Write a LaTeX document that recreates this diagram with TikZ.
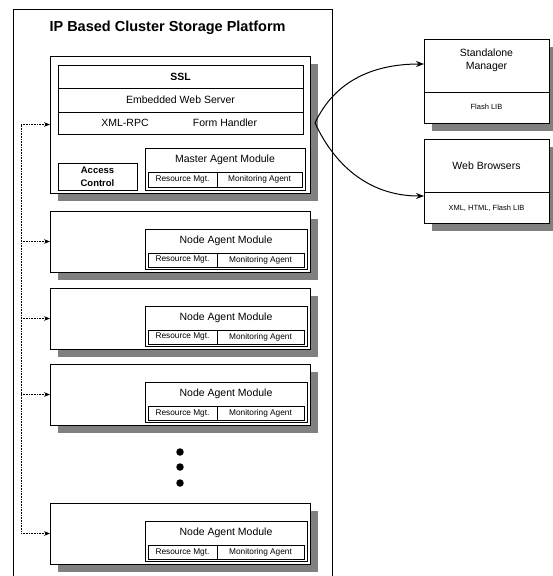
\documentclass[tikz,border=0pt]{standalone}
\usepackage{fontspec}
\setmainfont{Liberation Sans}
\usetikzlibrary{arrows.meta,calc}
\begin{document}
\begin{tikzpicture}[x=1pt,y=-1pt,
  box/.style={draw, line width=0.7pt, fill=white, rectangle, inner sep=0pt, outer sep=0pt, anchor=north west},
  shadowfill/.style={fill=black!50},
  lbl/.style={font=\fontsize{10.5}{13}\selectfont},
  sml/.style={font=\fontsize{8.3}{10}\selectfont},
  tiny/.style={font=\fontsize{7.5}{9}\selectfont},
  bus/.style={densely dotted, line width=0.6pt},
  busarrow/.style={densely dotted, line width=0.6pt, -{Stealth[length=6pt,width=4.5pt]}},
  link/.style={line width=1pt, -{Stealth[length=8pt,width=6pt]}},
  dotnode/.style={circle, fill=black, inner sep=0pt, minimum size=7.5pt}
]
\useasboundingbox (0,0) rectangle (553,576);
% platform frame
\draw[line width=0.6pt] (13,580) -- (13,9) -- (332,9) -- (332,580);
\node[font=\bfseries\fontsize{14.5}{17}\selectfont, anchor=west] (title) at (46,28) {IP Based Cluster Storage Platform};

% master box
\fill[shadowfill] (58,64) rectangle (318,201);
\node[box, minimum width=260pt, minimum height=137pt] (master) at (50,56) {};
\node[box, minimum width=245pt, minimum height=23pt, lbl, font=\bfseries\fontsize{10.5}{13}\selectfont] (ssl) at (58,65) {SSL};
\node[box, minimum width=245pt, minimum height=24pt, lbl] (ews) at (58,88) {Embedded Web Server};
\node[box, minimum width=245pt, minimum height=22pt] (xrow) at (58,112) {};
\node[lbl] (xmlrpc) at (125,123) {XML-RPC};
\node[lbl] (form) at (225,123) {Form Handler};
\node[box, minimum width=79pt, minimum height=27pt, align=center, font=\bfseries\fontsize{9.5}{13}\selectfont] (access) at (58,163) {Access\\Control};
\node[box, minimum width=160pt, minimum height=42pt] (mam) at (145,148) {};
\node[lbl] (mamt) at (225,160) {Master Agent Module};
\node[box, minimum width=69pt, minimum height=15pt, sml] (mres) at (148,172) {Resource Mgt.};
\node[box, minimum width=85pt, minimum height=15pt, sml] (mmon) at (217,172) {Monitoring Agent};

% node agent boxes
\foreach \t/\n in {211/1,288/2,364/3,503/4}{
  \fill[shadowfill] (58,\t+8) rectangle (318,\t+69);
  \node[box, minimum width=260pt, minimum height=61pt] (node\n) at (50,\t) {};
  \node[box, minimum width=162pt, minimum height=40pt] (nam\n) at (145,\t+18) {};
  \node[lbl] (namt\n) at (226,\t+30) {Node Agent Module};
  \node[box, minimum width=69pt, minimum height=14pt, sml] (nres\n) at (148,\t+42) {Resource Mgt.};
  \node[box, minimum width=87pt, minimum height=14pt, sml] (nmon\n) at (217,\t+42) {Monitoring Agent};
}

% ellipsis dots
\node[dotnode] (dot1) at (180,452) {};
\node[dotnode] (dot2) at (180,467) {};
\node[dotnode] (dot3) at (180,483) {};

% dotted bus
\coordinate (bt) at ($(master.west)+(-29,0)$);
\coordinate (bb) at ($(node4.west)+(-29,0)$);
\draw[bus] (bt) -- (bb);
\draw[busarrow] (bt) -- (master.west);
\foreach \n in {1,2,3,4}{
  \draw[busarrow] ($(node\n.west)+(-29,0)$) -- (node\n.west);
}

% right boxes
\fill[shadowfill] (432,47) rectangle (557,131);
\node[box, minimum width=125pt, minimum height=84pt] (sm) at (424,39) {};
\draw[line width=0.7pt] ([yshift=-53pt]sm.north west) -- ([yshift=-53pt]sm.north east);
\node[lbl, align=center, font=\fontsize{10.5}{13}\selectfont] (smt) at (486.5,60) {Standalone\\Manager};
\node[tiny] (flib) at (486.5,107) {Flash LIB};

\fill[shadowfill] (432,147) rectangle (557,231);
\node[box, minimum width=125pt, minimum height=84pt] (wb) at (424,139) {};
\draw[line width=0.7pt] ([yshift=-53pt]wb.north west) -- ([yshift=-53pt]wb.north east);
\node[lbl] (wbt) at (486.5,166) {Web Browsers};
\node[tiny] (wlib) at (486.5,208) {XML, HTML, Flash LIB};

% links
\coordinate (src) at (315,123);
\draw[link] (src) to[out=65,in=180] ([yshift=17pt]sm.west);
\draw[link] (src) to[out=-65,in=180] ([yshift=-15pt]wb.west);
\end{tikzpicture}
\end{document}
